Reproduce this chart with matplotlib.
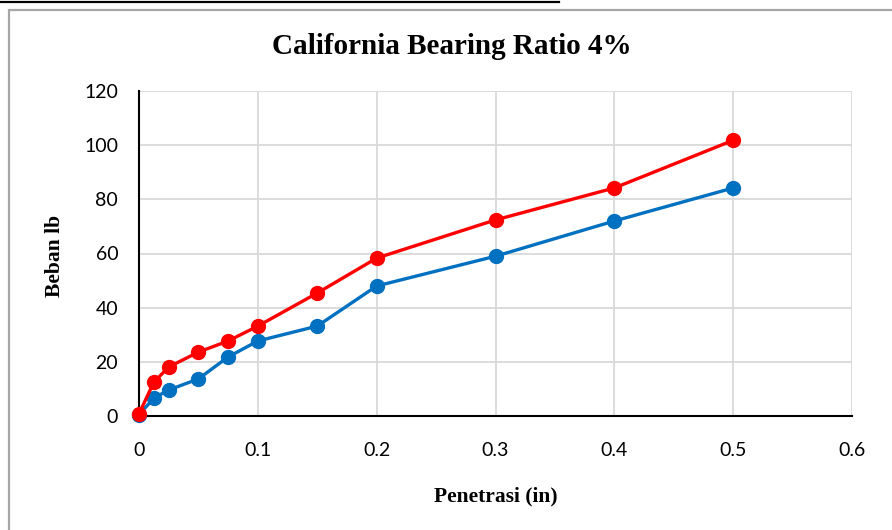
import matplotlib
matplotlib.use("Agg")
import matplotlib.pyplot as plt
from matplotlib.lines import Line2D
from matplotlib.patches import Rectangle

# Penetration (in) and load readings (lb) for the two CBR tests
penetrasi = [0, 0.0125, 0.025, 0.05, 0.075, 0.1, 0.15, 0.2, 0.3, 0.4, 0.5]
beban_biru = [0.5, 6.6, 9.6, 13.7, 21.8, 27.7, 33.2, 48.0, 59.0, 72.0, 84.2]
beban_merah = [0.8, 12.5, 18.1, 23.6, 27.7, 33.2, 45.4, 58.3, 72.4, 84.2, 101.8]

x_ticks = [0, 0.1, 0.2, 0.3, 0.4, 0.5, 0.6]
x_tick_labels = ["0", "0.1", "0.2", "0.3", "0.4", "0.5", "0.6"]
y_ticks = [0, 20, 40, 60, 80, 100, 120]

fig = plt.figure(figsize=(8.92, 5.30), dpi=100)
fig.patch.set_facecolor("white")

# Chart frame and the rule above it
fig.add_artist(Rectangle((9 / 892, -0.05), 1.0, 1 - 10 / 530 + 0.05,
                         transform=fig.transFigure, fill=False,
                         edgecolor="#a6a6a6", linewidth=1.6))
fig.add_artist(Line2D([0, 559 / 892], [1 - 1.5 / 530, 1 - 1.5 / 530],
                      transform=fig.transFigure, color="black", linewidth=1.6))

ax = fig.add_axes([139 / 892, 1 - 416 / 530, (852 - 139) / 892, (416 - 91) / 530])

ax.plot(penetrasi, beban_biru, color="#0070C0", linewidth=2.4,
        marker="o", markersize=10, zorder=3, clip_on=False)
ax.plot(penetrasi, beban_merah, color="#FF0000", linewidth=2.4,
        marker="o", markersize=10, zorder=4, clip_on=False)

ax.set_xlim(0, 0.6)
ax.set_ylim(0, 120)
ax.set_xticks(x_ticks)
ax.set_xticklabels(x_tick_labels)
ax.set_yticks(y_ticks)
ax.grid(True, color="#d9d9d9", linewidth=1.3)
ax.set_axisbelow(True)
for side in ("top", "right"):
    ax.spines[side].set_visible(False)
for side in ("left", "bottom"):
    ax.spines[side].set_color("black")
    ax.spines[side].set_linewidth(1.5)
    ax.spines[side].set_zorder(2)
ax.tick_params(length=0, labelsize=14, colors="black")
ax.tick_params(axis="x", pad=19)
ax.tick_params(axis="y", pad=15)
for lab in ax.get_xticklabels() + ax.get_yticklabels():
    lab.set_family("Lato")

serif = "Liberation Serif"
fig.text(452 / 892, 1 - 47 / 530, "California Bearing Ratio 4%", ha="center", va="center",
         family=serif, fontweight="bold", fontsize=21)
fig.text(55 / 892, 1 - 256 / 530, "Beban lb", ha="center", va="center", rotation=90,
         family=serif, fontweight="bold", fontsize=15.5)
fig.text(496 / 892, 1 - 496 / 530, "Penetrasi (in)", ha="center", va="center",
         family=serif, fontweight="bold", fontsize=15.5)

fig.savefig("out.png", dpi=100, facecolor="white")
